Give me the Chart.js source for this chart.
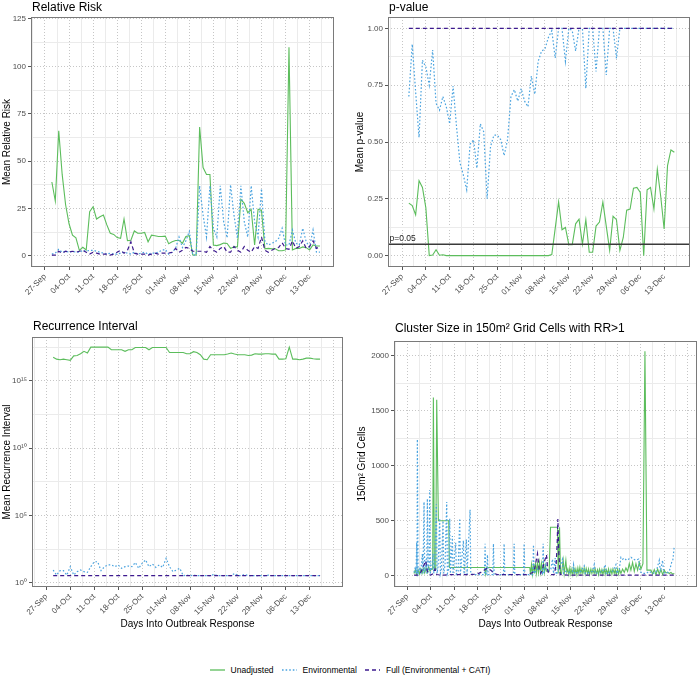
<!DOCTYPE html>
<html>
<head>
<meta charset="utf-8">
<title>Outbreak response cluster metrics</title>
<script src="https://cdn.jsdelivr.net/npm/chart.js@4.4.1/dist/chart.umd.min.js"></script>
<style>
  html, body { margin:0; padding:0; background:#ffffff; }
  #wrap { position:relative; width:700px; height:675px; overflow:hidden; background:#fff; font-family:"Liberation Sans", Arial, Helvetica, sans-serif; }
  #wrap canvas { position:absolute; }
  #legend { position:absolute; left:0; top:663px; width:700px; height:14px; display:flex; justify-content:center; align-items:center; font-size:8.5px; color:#000; }
  .item { display:flex; align-items:center; margin:0 4px; white-space:nowrap; }
  .item svg { margin-right:6px; }
</style>
</head>
<body>
<div id="wrap">
  <canvas id="c1" width="350" height="310" style="left:0;top:0"></canvas>
  <canvas id="c2" width="350" height="310" style="left:350px;top:0"></canvas>
  <canvas id="c3" width="350" height="330" style="left:0;top:310px"></canvas>
  <canvas id="c4" width="350" height="330" style="left:350px;top:310px"></canvas>
  <div id="legend"></div>
</div>
<script>
// ---------------- data ----------------
const seriesNames = ['Unadjusted', 'Environmental', 'Full (Environmental + CATI)'];
const tickDays = [0, 7, 14, 21, 28, 35, 42, 49, 56, 63, 70, 77];
const tickLabels = ['27-Sep','04-Oct','11-Oct','18-Oct','25-Oct','01-Nov','08-Nov','15-Nov','22-Nov','29-Nov','06-Dec','13-Dec'];
const xAxisTitle = 'Days Into Outbreak Response';

// day offsets from 27-Sep
const days = [2,3,4,5,6,7,8,9,10,11,12,13,14,15,16,17,18,19,20,21,22,23,24,25,26,27,28,29,30,31,32,33,34,35,36,37,38,39,40,41,42,43,44,45,46,47,48,49,50,51,52,53,54,55,56,57,58,59,60,61,62,63,64,65,66,67,68,69,70,71,72,73,74,75,76,77,78,79,80];

// Relative Risk
const rrUnadjusted = [39,29,66,43,27,17,11,9.6,3,4.6, 3.2,23.4,26,19.5,20.7,21.6,16.4,12,11.4,9.7, 9.3,19.5,8.1,8.3,13.2,12,12,12.4,7.5,11, 10.7,10.3,10.3,10.5,6.5,7.5,8.2,8.2,6.7,10.3, 10.7,0.5,0.5,68,46.6,43,43,5.8,5.5,6, 6.8,6.6,4,4.8,4.8,29.9,27.8,22.8,24.5,5.8, 24.6,24,3.8,4,3.8,3.8,2.8,2.8,3.2,110, 3.2,4,4,4.8,4.4,3.2,5.8,5.3,5.3];
const rrEnvironmental = [1,1.5,3.5,2,2.5,2,2.5,2,2,3, 2.5,3,3,2.5,2,1.5,1,1.5,1,1, 1.5,2,1.5,1,2,1,1.5,2,1,1.5, 1.5,2,3,3.5,1,2,4,10,4.5,8, 13,0.5,0.5,37,21.6,10,37,14.6,10,37, 18,9.6,37.5,21.6,9.3,37,18,10,37,18, 10,35.5,7.5,5.8,6.7,7.5,9.3,14.6,5.8,5.8, 13.7,6.7,5.8,14.6,7.5,4.8,13.7,2,2];
const rrFull = [0.5,0.5,2.5,1.5,2.5,2,2.5,2,2.5,3, 2,1,2,1.5,1,1,1,0.5,1,2, 3,1.5,3,7.5,1.5,1,1,1,0.5,1, 1.5,1,1.5,1.5,1.5,2,4,2,3,4.5, 4,2.5,2.5,2.5,2.5,2,5,3,2,4, 5,2,2,5,3,2,5,3,2,5, 4,10,3,2,3,4,4.5,7,4,3.5, 8,4,5,8,4,5,8,4,5];

// p-value
const pUnadjusted = [0.231,0.22,0.18,0.33,0.30,0.21,0,0.003,0.026,0.002, 0.004,0,0,0,0,0,0,0,0,0, 0,0,0,0,0,0,0,0,0,0, 0,0,0,0,0,0,0,0,0,0, 0,0,0.005,0.12,0.236,0.114,0.124,0.048,0.048,0.14, 0.16,0.05,0.158,0.015,0.015,0.13,0.148,0.236,0.13,0.023, 0.173,0.158,0.023,0.08,0.2,0.205,0.297,0.30,0.278,0, 0.29,0.30,0.205,0.38,0.26,0.117,0.396,0.465,0.455];
const pEnvironmental = [0.70,0.93,0.72,0.52,0.86,0.83,0.75,0.905,0.67,0.64, 0.70,0.655,0.58,0.746,0.57,0.41,0.355,0.29,0.49,0.51, 0.385,0.58,0.545,0.25,0.48,0.53,0.53,0.51,0.44,0.51, 0.70,0.73,0.68,0.735,0.68,0.655,0.79,0.71,0.855,0.90, 0.91,0.96,0.99,0.87,1,1,0.855,1,0.99,0.90, 1,1,0.736,1,1,0.81,1,1,0.795,1, 1,0.868,1,1,1,1,1,1,1,1, 1,1,1,1,1,1,1,1,1];
const pFull = [1,1,1,1,1,1,1,1,1,1, 1,1,1,1,1,1,1,1,1,1, 1,1,1,1,1,1,1,1,1,1, 1,1,1,1,1,1,1,1,1,1, 1,1,1,1,1,1,1,1,1,1, 1,1,1,1,1,1,1,1,1,1, 1,1,1,1,1,1,1,1,1,1, 1,1,1,1,1,1,1,1,1];
const pThreshold = [0.05];

// Recurrence interval
const riUnadjusted = [5.9e16,4.2e16,3.8e16,4.2e16,3.8e16,3.4e16,7.4e16,7.9e16,1.05e17,1.6e17, 1.2e17,3.3e17,3.3e17,3.3e17,3.3e17,3.3e17,3.3e17,2.1e17,2.1e17,2.1e17, 2.1e17,1.6e17,2.1e17,2.1e17,3.1e17,3.1e17,3.1e17,3.1e17,2.1e17,3.1e17, 3.1e17,3.1e17,3.1e17,3.1e17,1.3e17,1.3e17,1.3e17,1.3e17,1.3e17,1.05e17, 1.05e17,1.5e17,1.3e17,8.9e16,4.2e16,3.8e16,8.9e16,8.9e16,8.9e16,8.9e16, 8.9e16,1.0e17,1.2e17,1.0e17,8.9e16,8.9e16,8.9e16,7.9e16,8.4e16,1.05e17, 1.0e17,1.0e17,1.05e17,1.05e17,1.0e17,1.0e17,4.2e16,4.2e16,4.5e16,3.3e17, 4.2e16,4.2e16,3.8e16,4.2e16,5.0e16,5.0e16,4.5e16,4.2e16,4.2e16];
const riEnvironmental = [8.8,3.7,7.8,7.8,3.7,15.5,3.7,6.6,8.8,6.6, 5.9,15.5,36,36,7.8,15.5,21,21,15.5,21, 11.7,15.5,17.4,15.5,32,11.7,27.5,49,15.5,24.5, 13.8,21,13.8,65,15.5,6.6,8.8,11.7,3.3,3.7, 3.3,3.7,3.3,3.3,3.3,3.3,3.3,4.2,3.3,3.3, 3.3,3.3,3.3,4.9,3.3,3.3,4.2,3.3,3.3,3.3, 3.3,3.3,3.3,3.6,3.3,3.3,3.3,3.3,3.3,3.3, 3.3,3.3,3.3,3.3,3.3,3.3,3.3,3.3,3.3];
const riFull = [3.3,3.3,3.3,3.3,3.3,3.3,3.3,3.3,3.3,3.3, 3.3,3.3,3.3,3.3,3.3,3.3,3.3,3.3,3.3,3.3, 3.3,3.3,3.3,3.3,3.3,3.3,3.3,3.3,3.3,3.3, 3.3,3.3,3.3,3.3,3.3,3.3,3.3,3.3,3.3,3.3, 3.3,3.3,3.3,3.3,3.3,3.3,3.3,3.3,3.3,3.3, 3.3,3.3,3.3,3.3,3.3,3.3,3.3,3.3,3.3,3.3, 3.3,3.3,3.3,3.3,3.3,3.3,3.3,3.3,3.3,3.3, 3.3,3.3,3.3,3.3,3.3,3.3,3.3,3.3,3.3];

// Cluster size (several observations per day)
const clusterUnadjDays = [2,2.4,2.8,3.2,3.6,4,4.4,4.8,5.2,5.6, 6,6.4,6.8,7.2,7.6,7.8,8.1,8.5,8.8,9.3, 12.4,12.6,23.2,23.4,23.8,36.7,36.9,37.2,37.5,37.8, 38.1,38.4,38.7,39,39.3,39.6,39.9,40.2,40.5,40.8, 41.1,41.4,41.7,42.0,42.5,42.9,45.0,45.2,45.6,45.9, 46.2,46.7,47.0,47.5,47.8,48.1,48.4,48.7,49,49.3, 49.6,49.9,50.2,50.5,50.8,51.1,51.4,51.7,52,52.3, 52.6,53,53.3,53.6,54,54.3,54.6,55,55.3,55.6, 56,56.3,56.6,57,57.3,57.6,58,58.3,58.6,59, 59.3,59.6,60,60.3,60.6,61,61.3,61.6,62,62.3, 62.6,63,63.3,63.6,64,64.5,65,65.5,66,66.5, 67,67.5,68,68.5,69,69.5,70,70.6,71.2,71.8, 72.5,73,73.5,74,74.5,75,75.5,76,76.5,77, 77.5,78,78.5,79,79.5,80];
const clusterUnadjValues = [20,55,10,55,15,60,20,65,25,70, 30,80,40,60,60,1620,60,60,1600,500, 500,75,75,15,75,75,10,100,15,110, 20,120,25,110,30,120,30,110,35,115, 30,90,40,40,40,440,440,20,440,20, 20,140,20,140,30,60,10,70,15,60, 10,70,20,60,10,70,20,75,20,60, 20,70,15,65,20,60,10,60,20,55, 20,60,15,55,10,60,20,55,10,60, 15,55,20,60,10,55,15,60,20,55, 10,60,15,55,20,60,30,70,40,110, 50,120,40,110,50,120,60,110,2040,50, 50,50,15,55,10,60,15,55,10,50, 25,30,20,30,15,20];

const clusterEnvDays = [2.0,2.4,2.6,2.8,2.9,3.0,3.2,3.6,4.0,4.5, 4.7,5.0,5.2,5.6,5.8,6.0,6.2,6.5,6.7,6.9, 7.3,7.7,7.9,8.2,8.7,8.9,9.2,9.7,9.9,10.2, 10.7,10.9,11.3,11.8,12.0,12.4,12.7,12.9,13.5,13.7, 14.5,14.7,15.2,15.7,15.9,16.8,17.0,17.7,17.9,18.8, 19.0,20,21,22,23.1,23.3,23.5,23.8,24.0,24.2, 25.6,25.8,26.0,28.8,29.0,29.2,31.8,32.0,32.2,34.8, 35.0,35.2,37.6,37.8,38.0,39,40,40.5,40.7,40.9, 41.5,42,43,43.5,43.8,44.3,44.6,45.5,46.5,46.8, 47.5,48.5,49.5,49.8,50.1,51,52,53.0,53.3,54.5, 55.5,56.0,56.3,57.5,58.5,59.3,59.6,60.5,61.5,62.5, 62.8,63.5,64.0,64.5,65,65.7,66.3,67,67.7,68.5, 69.3,69.7,70.5,71.5,72.5,73.5,74.5,75.5,75.8,76.5, 76.8,77.5,78.5,79.2,79.6,80.0];
const clusterEnvValues = [30,80,20,300,20,1240,20,60,30,200, 20,670,30,150,20,700,30,120,780,30, 60,200,20,100,650,20,80,520,20,60, 500,20,100,670,20,60,520,20,360,15, 300,15,40,520,15,320,15,330,15,600, 15,10,10,10,10,290,10,10,190,10, 10,290,10,10,290,10,10,290,10,10, 290,10,10,280,20,60,40,20,290,20, 100,40,60,150,20,160,10,60,150,20, 40,30,40,100,20,30,40,90,20,30, 40,100,20,30,40,100,20,30,40,100, 20,60,167,150,160,140,150,167,150,140, 150,40,20,20,40,20,30,140,40,140, 30,20,40,120,150,270];

const clusterFullDays = [2,3,4,4.5,5,5.5,6,6.5,7,7.8, 8.3,8.8,10,11,13,16,19,21,22,23, 24,25,26,27,30,33,36,37,38,38.5, 39,39.5,40,40.5,41,41.7,42.1,43,44,44.6, 44.9,45.1,45.4,45.8,48,52,56,60,64,68, 72,76,80];
const clusterFullValues = [5,5,30,60,100,135,40,10,5,20, 60,10,5,5,10,10,10,15,30,50, 70,50,20,10,10,10,10,20,40,120, 200,60,20,60,120,190,40,10,10,100, 300,515,200,10,5,5,5,5,5,5, 5,5,5];

// ---------------- styling / helpers ----------------
const FONT = '"Liberation Sans", Arial, Helvetica, sans-serif';
Chart.defaults.font.family = FONT;
Chart.defaults.color = '#4d4d4d';

const STYLE = [
  { color: '#5cbd5c', dash: [], width: 1.1, order: 2 },
  { color: '#4aa3df', dash: [1.6, 2], width: 1.2, order: 1 },
  { color: '#3d1a8f', dash: [4, 3], width: 1.2, order: 0 }
];

function pts(xs, ys) { return ys.map((v, i) => ({ x: xs[i], y: v })); }
function makeDatasets(xsList, ysList) {
  return ysList.map((ys, i) => ({
    label: seriesNames[i], data: pts(xsList[i], ys),
    borderColor: STYLE[i].color, backgroundColor: STYLE[i].color,
    borderWidth: STYLE[i].width, borderDash: STYLE[i].dash,
    pointRadius: 0, pointHoverRadius: 0, fill: false, tension: 0, order: STYLE[i].order
  }));
}

function xTickList(min, max, extraGrid) {
  const t = [];
  tickDays.forEach((d, i) => t.push({ value: d, lab: tickLabels[i], kind: 'M' }));
  [tickDays[0] - 3.5].concat(tickDays.map(d => d + 3.5)).forEach(d => t.push({ value: d, lab: '', kind: 'm' }));
  if (extraGrid) t.push({ value: tickDays[tickDays.length - 1] + 7, lab: '', kind: 'g' });
  return t.filter(o => o.value >= min && o.value <= max).sort((a, b) => a.value - b.value);
}
function yTickList(majors, labels, minors, min, max) {
  const t = majors.map((v, i) => ({ value: v, lab: labels[i], kind: 'M' }))
    .concat(minors.map(v => ({ value: v, lab: '', kind: 'm' })));
  return t.filter(o => o.value >= min && o.value <= max).sort((a, b) => a.value - b.value);
}

const gridOpts = {
  drawOnChartArea: true, drawTicks: true, tickLength: 3, lineWidth: 1, tickWidth: 1,
  color: c => (c.tick && c.tick.kind === 'm') ? '#ebebeb' : '#c6c6c6',
  tickColor: c => (c.tick && c.tick.kind === 'M') ? '#555555' : 'rgba(0,0,0,0)'
};
const borderOpts = { display: false, dash: c => (c.tick && c.tick.kind !== 'm') ? [1, 2] : [] };
const labelCb = (v, i, t) => (t[i] && t[i].lab) ? t[i].lab : '';

function xScale(min, max, extraGrid, withTitle, height) {
  return {
    type: 'linear', min: min, max: max, bounds: 'data',
    afterBuildTicks: s => { s.ticks = xTickList(min, max, extraGrid); },
    afterFit: s => { s.height = height; },
    ticks: { autoSkip: false, minRotation: 45, maxRotation: 45, padding: 2, color: '#4d4d4d', font: { size: 8 }, callback: labelCb },
    grid: gridOpts, border: borderOpts,
    title: withTitle ? { display: true, text: xAxisTitle, color: '#000', font: { size: 10 }, padding: { top: 0, bottom: 10 } } : { display: false }
  };
}
function yScale(type, min, max, tickList, width, titleText, padTop) {
  return {
    type: type, min: min, max: max, bounds: 'data',
    afterBuildTicks: s => { s.ticks = tickList.map(o => Object.assign({}, o)); },
    afterFit: s => { s.width = width; },
    ticks: { autoSkip: false, padding: 2, color: '#4d4d4d', font: { size: 8 }, callback: labelCb },
    grid: gridOpts, border: borderOpts,
    title: { display: true, text: titleText, color: '#000', font: { size: 10 }, padding: { top: padTop, bottom: 0 } }
  };
}

const titlePlugin = {
  id: 'panelTitle',
  afterDraw(chart, args, opts) {
    const ctx = chart.ctx;
    ctx.save();
    ctx.font = '12px ' + FONT;
    ctx.fillStyle = '#000';
    ctx.textAlign = 'left';
    ctx.textBaseline = 'alphabetic';
    ctx.fillText(opts.text, chart.chartArea.left + 1, opts.y);
    ctx.restore();
  }
};
const framePlugin = {
  id: 'panelFrame',
  afterDraw(chart) {
    const a = chart.chartArea, ctx = chart.ctx;
    ctx.save();
    ctx.strokeStyle = '#7a7a7a';
    ctx.lineWidth = 1;
    ctx.strokeRect(Math.round(a.left) + 0.5, Math.round(a.top) + 0.5, Math.round(a.right - a.left) - 1, Math.round(a.bottom - a.top) - 1);
    ctx.restore();
  }
};
const thresholdPlugin = {
  id: 'pThreshold',
  afterDatasetsDraw(chart) {
    const a = chart.chartArea, ctx = chart.ctx;
    const y = chart.scales.y.getPixelForValue(pThreshold[0]);
    ctx.save();
    ctx.strokeStyle = '#3a3a3a';
    ctx.lineWidth = 1.3;
    ctx.beginPath(); ctx.moveTo(a.left, y); ctx.lineTo(a.right, y); ctx.stroke();
    ctx.font = '8.5px ' + FONT;
    ctx.fillStyle = '#222';
    ctx.textBaseline = 'alphabetic';
    ctx.fillText('p=' + pThreshold[0].toFixed(2), a.left + 1.5, y - 3.5);
    ctx.restore();
  }
};

function makeChart(id, datasets, xs, ys, pad, titleOpts, extra) {
  return new Chart(document.getElementById(id), {
    type: 'line',
    data: { datasets: datasets },
    options: {
      responsive: false, animation: false, devicePixelRatio: 1, events: [],
      layout: { padding: pad, autoPadding: false },
      plugins: { legend: { display: false }, tooltip: { enabled: false }, panelTitle: titleOpts },
      scales: { x: xs, y: ys }
    },
    plugins: [titlePlugin, framePlugin].concat(extra || [])
  });
}

// ---------------- panels ----------------
// 1. Relative Risk
makeChart('c1',
  makeDatasets([days, days, days], [rrUnadjusted, rrEnvironmental, rrFull]),
  xScale(-4.07, 84.1, false, false, 43),
  yScale('linear', -5.8, 126, yTickList([0, 25, 50, 75, 100, 125], ['0', '25', '50', '75', '100', '125'], [12.5, 37.5, 62.5, 87.5, 112.5], -5.8, 126), 31, 'Mean Relative Risk', 1),
  { left: 0, top: 17, right: 16, bottom: 0 },
  { text: 'Relative Risk', y: 10.5 });

// 2. p-value
makeChart('c2',
  makeDatasets([days, days, days], [pUnadjusted, pEnvironmental, pFull]),
  xScale(-4.12, 84.6, false, false, 43),
  yScale('linear', -0.05, 1.05, yTickList([0, 0.25, 0.5, 0.75, 1], ['0.00', '0.25', '0.50', '0.75', '1.00'], [0.125, 0.375, 0.625, 0.875], -0.05, 1.05), 38, 'Mean p-value', 4),
  { left: 0, top: 17, right: 10, bottom: 0 },
  { text: 'p-value', y: 10.5 },
  [thresholdPlugin]);

// 3. Recurrence Interval (log scale)
const riMin = Math.pow(10, -0.32), riMax = Math.pow(10, 18.27);
makeChart('c3',
  makeDatasets([days, days, days], [riUnadjusted, riEnvironmental, riFull]),
  xScale(-4.19, 86.7, true, true, 53),
  yScale('logarithmic', riMin, riMax,
    yTickList([1, 1e5, 1e10, 1e15], ['10\u2070', '10\u2075', '10\u00B9\u2070', '10\u00B9\u2075'],
      [Math.pow(10, 2.5), Math.pow(10, 7.5), Math.pow(10, 12.5), Math.pow(10, 17.5)], riMin, riMax),
    32, 'Mean Recurrence Interval', 1),
  { left: 0, top: 27, right: 7, bottom: 0 },
  { text: 'Recurrence Interval', y: 19.5 });

// 4. Cluster size
makeChart('c4',
  makeDatasets([clusterUnadjDays, clusterEnvDays, clusterFullDays], [clusterUnadjValues, clusterEnvValues, clusterFullValues]),
  xScale(-4.0, 86.8, true, true, 53),
  yScale('linear', -103, 2134, yTickList([0, 500, 1000, 1500, 2000], ['0', '500', '1000', '1500', '2000'], [250, 750, 1250, 1750], -103, 2134), 44, '150m\u00B2 Grid Cells', 6.5),
  { left: 0, top: 31, right: 3, bottom: 0 },
  { text: 'Cluster Size in 150m\u00B2 Grid Cells with RR>1', y: 21.7 });

// ---------------- shared legend ----------------
const leg = document.getElementById('legend');
seriesNames.forEach((n, i) => {
  const item = document.createElement('div');
  item.className = 'item';
  const dash = STYLE[i].dash.length ? STYLE[i].dash.join(',') : 'none';
  item.innerHTML = '<svg width="15" height="6"><line x1="0" y1="3" x2="15" y2="3" stroke="' + STYLE[i].color +
    '" stroke-width="1.3" stroke-dasharray="' + dash + '"/></svg><span>' + n + '</span>';
  leg.appendChild(item);
});
</script>
</body>
</html>
